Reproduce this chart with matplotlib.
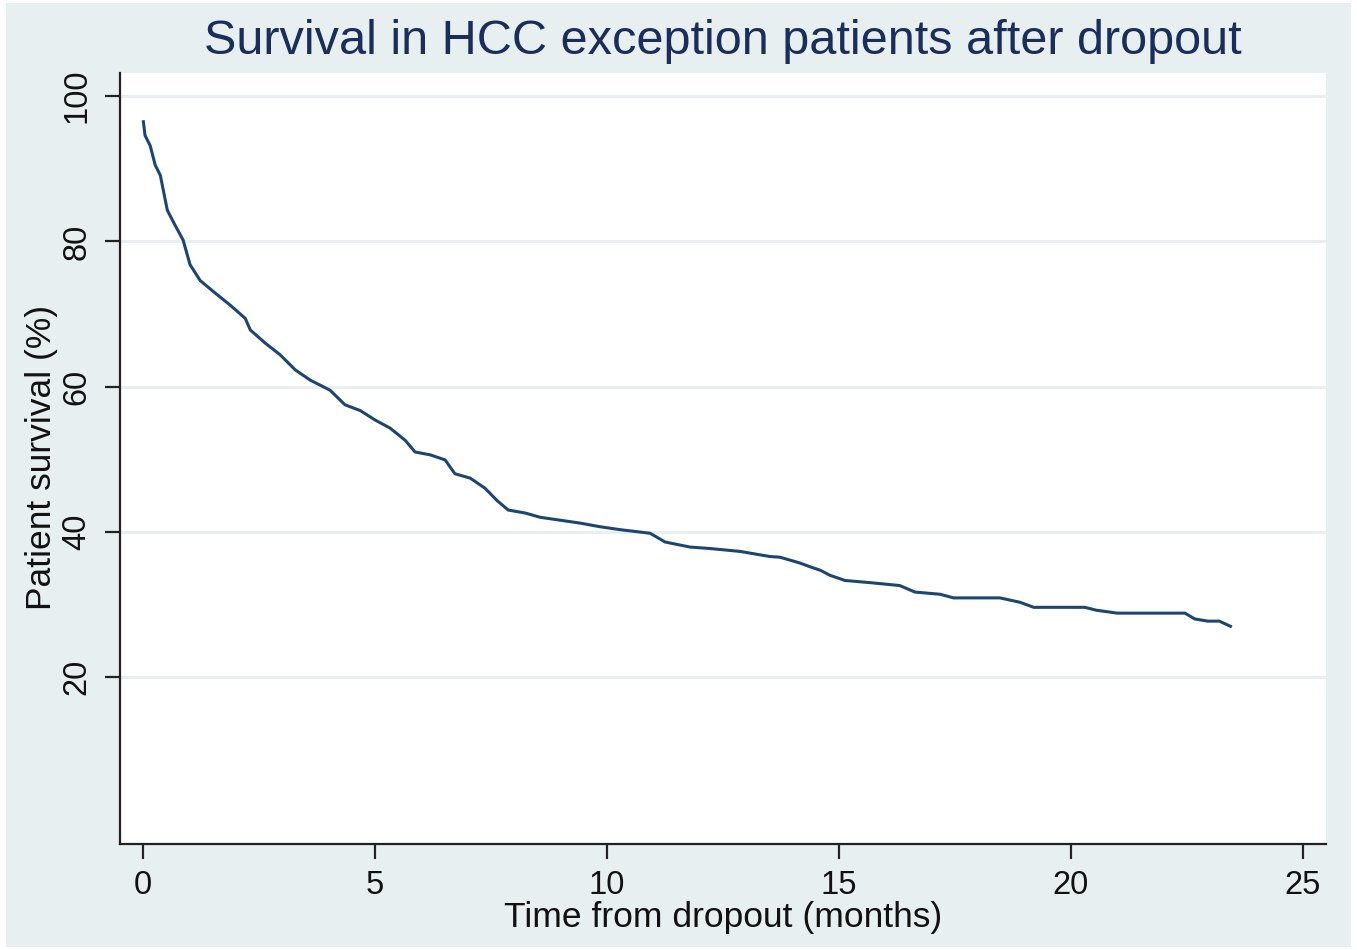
import matplotlib
matplotlib.use("Agg")
import matplotlib.pyplot as plt
from matplotlib.patches import Rectangle

plt.rcParams['font.family'] = ['Liberation Sans', 'DejaVu Sans']

# Kaplan-Meier estimate (months, survival %)
time_months = [0.0, 0.04, 0.15, 0.26, 0.37, 0.52, 0.69, 0.86, 1.01, 1.23, 1.55, 1.88,
               2.2, 2.31, 2.63, 2.95, 3.28, 3.6, 4.03, 4.35, 4.68, 5.0, 5.32, 5.65,
               5.86, 6.19, 6.51, 6.72, 7.05, 7.37, 7.63, 7.87, 8.23, 8.56, 8.99, 9.42,
               9.85, 10.28, 10.93, 11.25, 11.79, 12.22, 12.87, 13.51, 13.73, 14.16,
               14.37, 14.6, 14.81, 15.13, 15.67, 16.31, 16.64, 17.18, 17.47, 18.47,
               18.9, 19.2, 20.3, 20.55, 21.0, 22.46, 22.67, 22.95, 23.2, 23.47]
survival = [96.7, 94.6, 93.2, 90.5, 89.1, 84.3, 82.2, 80.2, 76.8, 74.6, 72.9, 71.2,
            69.4, 67.8, 66.0, 64.4, 62.3, 60.9, 59.5, 57.5, 56.7, 55.4, 54.3, 52.6,
            51.0, 50.6, 49.9, 48.0, 47.4, 46.0, 44.3, 43.0, 42.6, 42.0, 41.6, 41.2,
            40.7, 40.3, 39.8, 38.6, 37.9, 37.7, 37.3, 36.6, 36.5, 35.7,
            35.2, 34.7, 34.0, 33.3, 33.0, 32.6, 31.7, 31.4, 30.9, 30.9,
            30.3, 29.6, 29.6, 29.2, 28.8, 28.8, 28.0, 27.7, 27.7, 26.9]

x_ticks = [0, 5, 10, 15, 20, 25]
y_ticks = [20, 40, 60, 80, 100]

title = "Survival in HCC exception patients after dropout"
x_label = "Time from dropout (months)"
y_label = "Patient survival (%)"

W, H = 1357, 950
fig = plt.figure(figsize=(W / 100, H / 100), dpi=100)
fig.patch.set_facecolor('white')
fig.patches.append(Rectangle((6 / W, 3 / H), (W - 12) / W, (H - 6) / H,
                             transform=fig.transFigure, facecolor='#e8eff0',
                             edgecolor='none', zorder=-10))

ax = fig.add_axes([120 / W, 1 - 844 / H, (1326 - 120) / W, (844 - 73) / H])
ax.set_facecolor('white')

ax.plot(time_months, survival, color='#1c4670',
        linewidth=2.2, solid_joinstyle='round', solid_capstyle='butt', zorder=3)

ax.set_xlim(-0.5, 25.5)
ax.set_ylim(-3.0, 103.2)
ax.set_xticks(x_ticks)
ax.set_yticks(y_ticks)
ax.set_xticklabels([str(v) for v in x_ticks])
ax.set_yticklabels([str(v) for v in y_ticks], rotation=90, va='center')

for y in y_ticks:
    ax.axhline(y, color='#e8eff0', linewidth=2.2, zorder=1)

for side in ['top', 'right']:
    ax.spines[side].set_visible(False)
for side in ['left', 'bottom']:
    ax.spines[side].set_linewidth(1.6)
    ax.spines[side].set_color('#222222')

ax.tick_params(axis='both', direction='out', length=11, width=1.6,
               color='#222222', labelsize=23.5, labelcolor='#111111')
ax.tick_params(axis='x', pad=8)
ax.tick_params(axis='y', pad=9)

ax.set_xlabel(x_label, fontsize=25.5, color='#111111', va='center')
ax.set_ylabel(y_label, fontsize=25.5, color='#111111', va='center')
ax.xaxis.set_label_coords(0.5, -(918 - 844) / 771)
ax.yaxis.set_label_coords((42 - 120) / 1206, 0.5 - (457 - 458.5) / 771)

fig.text((120 + 1326) / 2 / W, 1 - 42 / H, title, ha='center', va='center',
         fontsize=35, color='#1b2d5b')

fig.savefig('out.png', dpi=100, facecolor=fig.get_facecolor())
